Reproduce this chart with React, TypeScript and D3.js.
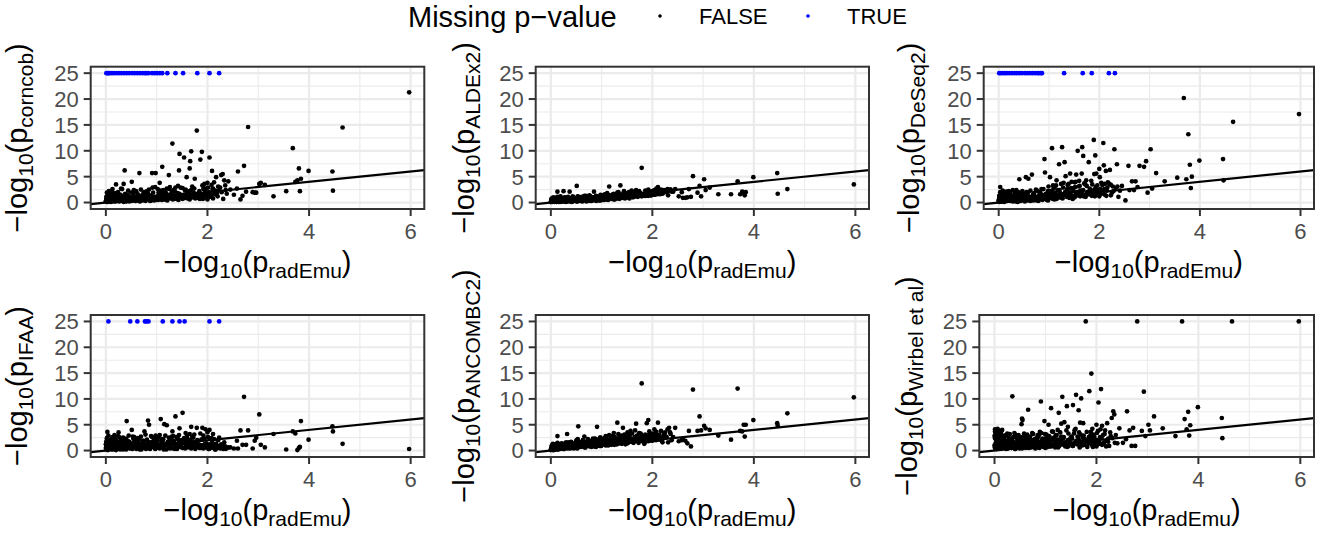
import React from "react";
import * as d3 from "d3";

// -log10(p) from radEmu, one entry per taxon (shared x of every panel)
const radEmu: number[] = [
  // high radEmu signal
  5.97, 4.66, 4.46, 4.47, 3.99, 3.84, 3.82, 3.80, 3.77, 3.73,
  3.68, 3.55, 3.30, 3.13, 3.05, 3.02, 2.96, 2.93, 2.89, 2.80,
  2.76, 2.72, 2.69, 2.65, 2.60, 2.58, 2.52, 2.45, 2.41,
  // moderate
  0.03, 0.13, 0.20, 0.25, 0.32, 0.35, 0.37, 0.41, 0.51, 0.54,
  0.55, 0.53, 0.59, 0.66, 0.76, 0.83, 0.85, 0.91, 0.92, 0.98,
  1.02, 1.06, 1.08, 1.11, 1.15, 1.20, 1.24, 1.26, 1.31, 1.33,
  1.37, 1.42, 1.45, 1.44, 1.51, 1.54, 1.57, 1.59, 1.60, 1.65,
  1.66, 1.68, 1.70, 1.74, 1.75, 1.79, 1.86, 1.89, 1.90, 1.92,
  1.94, 1.96, 2.00, 2.01, 2.04, 2.08, 2.09, 2.11, 2.13, 2.17,
  2.21, 2.23, 2.27, 2.30, 2.33, 2.35,
  // taxa with some missing p-values
  0.01, 0.04, 0.05, 0.08, 0.12, 0.16, 0.21, 0.26, 0.31, 0.36,
  0.41, 0.46, 0.48, 0.52, 0.57, 0.62, 0.67, 0.72, 0.77, 0.80,
  0.84, 0.86, 0.91, 0.96, 1.01, 1.06, 1.11, 1.12, 1.21, 1.30,
  1.31, 1.37, 1.45, 1.52, 1.55, 1.67, 1.80, 1.85, 2.04, 2.19,
  2.23, 2.31,
  // bulk
  0.00, 0.01, 0.02, 0.02, 0.03, 0.04, 0.05, 0.06, 0.07, 0.08,
  0.09, 0.10, 0.11, 0.13, 0.14, 0.15, 0.17, 0.18, 0.19, 0.22,
  0.23, 0.24, 0.27, 0.28, 0.29, 0.30, 0.33, 0.34, 0.38, 0.39,
  0.40, 0.43, 0.44, 0.45, 0.47, 0.49, 0.50, 0.56, 0.58, 0.60,
  0.61, 0.63, 0.64, 0.68, 0.69, 0.70, 0.73, 0.74, 0.78, 0.79,
  0.81, 0.87, 0.88, 0.89, 0.93, 0.94, 0.97, 0.99, 1.03, 1.04,
  1.07, 1.09, 1.13, 1.14, 1.17, 1.18, 1.22, 1.25, 1.28, 1.29,
  1.34, 1.36, 1.39, 1.41, 1.47, 1.49, 1.53, 1.56, 1.61, 1.63,
  1.69, 1.72, 1.77, 1.81, 1.84, 1.88, 1.93, 1.98, 2.03, 2.06,
  2.10, 2.14, 2.16, 2.20, 2.25, 2.28, 2.36, 2.38, 0.01, 0.03,
  // bulk, low values
  0.00, 0.01, 0.01, 0.02, 0.03, 0.04, 0.04, 0.05, 0.06, 0.07,
  0.08, 0.09, 0.10, 0.11, 0.12, 0.14, 0.15, 0.16, 0.18, 0.20,
  0.21, 0.23, 0.25, 0.26, 0.28, 0.30, 0.31, 0.33, 0.35, 0.36,
  0.38, 0.40, 0.42, 0.44, 0.46, 0.48, 0.50, 0.52, 0.54, 0.57,
  0.59, 0.61, 0.63, 0.65, 0.67, 0.70, 0.72, 0.75, 0.77, 0.80,
  0.82, 0.85, 0.87, 0.90, 0.93, 0.95, 0.98, 1.00, 1.03, 1.05,
  1.08, 1.10, 1.13, 1.16, 1.19, 1.21, 1.24, 1.27, 1.30, 1.32,
  1.35, 1.38, 1.40, 1.43, 1.46, 1.48, 1.51, 1.54, 1.57, 1.60,
  1.62, 1.65, 1.68, 1.71, 1.73, 1.76, 1.79, 1.82, 1.85, 1.87,
  1.90, 1.92, 1.95, 1.97, 2.00, 2.02, 2.05, 2.07, 2.11, 2.15,
  0.02, 0.06, 0.11, 0.17, 0.22, 0.27, 0.34, 0.43, 0.51, 0.62,
  0.71, 0.79, 0.88, 0.96, 1.05, 1.15, 1.26, 1.44, 1.66, 1.91,
];

// -log10(p) of each other method; null = missing p-value
const corncob: (number | null)[] = [
  21.3, 14.5, 6.0, 2.3, 6.1, 4.6, 2.2, 6.6, 4.3, 4.0,
  10.5, 2.2, 1.2, 3.4, 3.8, 3.6, 1.9, 1.9, 2.0, 14.6,
  2.1, 7.1, 1.3, 0.6, 6.0, 2.7, 1.5, 2.5, 4.1,
  1.2, 1.8, 3.5, 1.4, 2.6, 3.6, 6.2, 1.5, 4.0, 1.9,
  2.4, 1.1, 2.2, 5.7, 2.0, 1.7, 2.5, 5.7, 2.9, 5.7,
  2.6, 3.8, 2.3, 6.9, 2.1, 2.7, 5.3, 3.0, 11.4, 2.4,
  2.9, 3.2, 9.4, 6.2, 2.8, 8.7, 2.5, 4.9, 2.2, 6.6,
  8.0, 9.9, 3.1, 2.7, 4.6, 13.9, 8.3, 9.8, 3.3, 2.6,
  3.6, 2.4, 3.8, 2.9, 8.7, 3.4, 6.1, 2.7, 3.9, 4.9,
  3.1, 2.4, 5.3, 5.5, 4.3, 3.3,
  null, null, null, null, null, null, null, null, null, null,
  null, null, 0.8, null, null, null, null, null, null, null,
  null, 1.3, null, null, null, null, null, 1.5, null, 2.0,
  1.1, null, 1.7, null, 0.9, 2.3, null, 1.4, null, 1.9,
  null, 0.7,
  0.3, 1.1, 0.6, 1.9, 0.1, 1.4, 0.8, 2.2, 0.4, 1.0,
  1.6, 0.2, 0.9, 2.6, 0.5, 1.3, 0.7, 1.8, 0.2, 1.2,
  0.6, 2.0, 0.9, 0.3, 1.5, 2.7, 0.4, 1.1, 1.7, 0.8,
  0.2, 1.4, 2.3, 0.7, 1.0, 0.5, 1.9, 1.2, 0.3, 2.1,
  0.9, 1.6, 0.4, 1.3, 2.5, 0.6, 1.0, 1.8, 0.3, 1.5,
  2.2, 0.7, 1.2, 0.4, 1.9, 1.0, 3.0, 0.5, 1.4, 2.0,
  0.8, 1.7, 2.4, 1.1, 0.6, 1.9, 1.3, 2.6, 0.9, 1.6,
  1.2, 2.1, 0.7, 1.8, 2.9, 1.0, 1.5, 2.3, 0.8, 1.9,
  2.5, 1.3, 1.7, 0.9, 2.2, 1.5, 2.8, 1.1, 2.0, 1.6,
  2.6, 1.8, 2.3, 1.2, 2.9, 2.0, 2.4, 1.7, 0.5, 0.9,
  0.2, 0.7, 0.4, 1.0, 0.1, 0.5, 0.9, 0.3, 0.6, 1.2,
  0.4, 0.8, 0.1, 0.6, 1.1, 0.3, 0.7, 0.2, 0.9, 0.5,
  0.3, 1.0, 0.6, 0.2, 0.8, 0.4, 1.1, 0.5, 0.1, 0.7,
  0.9, 0.3, 0.6, 1.2, 0.2, 0.8, 0.4, 1.0, 0.5, 0.7,
  0.3, 0.9, 0.6, 1.1, 0.2, 0.7, 0.4, 1.3, 0.5, 0.8,
  0.6, 1.0, 0.3, 1.4, 0.7, 0.4, 1.1, 0.8, 0.5, 1.2,
  0.9, 0.5, 1.3, 0.7, 1.0, 0.4, 1.5, 0.8, 1.1, 0.6,
  1.2, 0.8, 1.6, 0.5, 1.0, 1.4, 0.7, 1.3, 0.9, 1.7,
  1.1, 0.6, 1.5, 1.0, 1.8, 0.8, 1.3, 1.6, 0.7, 1.2,
  1.5, 0.9, 1.9, 1.3, 0.6, 1.7, 1.1, 1.4, 0.8, 1.6,
  0.5, 0.2, 0.7, 0.4, 0.9, 0.3, 0.6, 0.8, 0.3, 1.0,
  0.5, 0.9, 0.4, 0.7, 1.0, 0.6, 1.2, 0.9, 1.1, 0.7,
];

const aldex2: (number | null)[] = [
  3.5, 2.6, 5.7, 1.7, 4.9, 2.0, 1.4, 1.9, 2.1, 1.6,
  4.1, 1.6, 1.6, 2.9, 2.4, 4.5, 1.2, 3.2, 1.9, 5.1,
  1.1, 2.6, 1.0, 0.9, 0.9, 2.0, 1.2, 2.6, 2.1,
  0.6, 2.1, 0.9, 2.2, 1.0, 0.7, 2.1, 0.8, 3.2, 1.1,
  0.9, 1.2, 0.6, 1.3, 1.4, 1.0, 2.1, 1.2, 0.9, 1.5,
  1.3, 1.6, 1.1, 1.8, 3.1, 1.4, 1.7, 1.2, 1.9, 2.0,
  3.3, 1.5, 1.8, 2.2, 1.6, 2.0, 1.3, 2.3, 1.7, 2.1,
  1.5, 2.4, 1.9, 2.2, 1.8, 6.7, 2.3, 2.0, 1.7, 2.5,
  2.1, 1.6, 2.2, 1.9, 2.4, 2.7, 2.0, 3.0, 2.3, 2.5,
  1.9, 2.4, 2.2, 2.6, 2.3, 2.5,
  0.4, 0.2, 0.7, 0.3, 0.5, 0.1, 0.6, 0.2, 0.8, 0.4,
  0.1, 0.9, 0.5, 0.3, 0.6, 0.2, 0.7, 0.4, 0.8, 0.3,
  0.6, 0.5, 0.9, 0.4, 0.7, 1.0, 0.6, 0.8, 1.1, 0.9,
  1.3, 1.0, 1.2, 1.4, 0.8, 1.6, 1.3, 1.7, 1.5, 1.8,
  2.0, 1.4,
  0.1, 0.5, 0.3, 0.8, 0.2, 0.6, 1.0, 0.4, 0.7, 0.2,
  0.9, 0.3, 0.6, 1.1, 0.4, 0.2, 0.8, 0.5, 1.2, 0.3,
  0.7, 0.4, 1.0, 0.2, 0.6, 0.9, 0.3, 1.1, 0.5, 0.8,
  0.4, 1.2, 0.6, 0.3, 0.9, 0.5, 0.7, 1.0, 0.4, 0.8,
  1.1, 0.5, 0.8, 0.6, 1.3, 0.4, 0.9, 0.7, 1.2, 0.5,
  0.8, 1.0, 0.6, 1.3, 0.9, 0.5, 1.1, 0.8, 1.4, 0.7,
  1.2, 0.9, 1.5, 0.8, 1.3, 1.0, 1.6, 0.9, 1.4, 1.1,
  1.3, 1.7, 1.0, 1.5, 1.2, 1.8, 1.1, 1.6, 1.4, 1.9,
  1.5, 1.2, 1.8, 1.6, 1.3, 2.0, 1.7, 1.4, 2.1, 1.8,
  1.6, 2.2, 1.9, 1.7, 2.3, 2.0, 2.5, 2.1, 0.6, 0.4,
  0.1, 0.3, 0.2, 0.5, 0.1, 0.4, 0.2, 0.6, 0.3, 0.1,
  0.4, 0.2, 0.5, 0.1, 0.3, 0.6, 0.2, 0.4, 0.1, 0.3,
  0.5, 0.2, 0.4, 0.7, 0.3, 0.1, 0.5, 0.3, 0.6, 0.2,
  0.4, 0.6, 0.2, 0.5, 0.3, 0.7, 0.4, 0.2, 0.6, 0.3,
  0.5, 0.3, 0.7, 0.4, 0.6, 0.2, 0.5, 0.8, 0.3, 0.6,
  0.4, 0.7, 0.5, 0.3, 0.8, 0.6, 0.4, 0.9, 0.5, 0.7,
  0.6, 0.9, 0.5, 0.8, 0.7, 1.0, 0.6, 0.9, 0.8, 1.1,
  0.7, 1.0, 0.9, 1.2, 0.8, 1.1, 1.0, 0.9, 1.3, 1.1,
  1.0, 1.2, 1.4, 1.1, 1.3, 1.5, 1.2, 1.4, 1.6, 1.3,
  1.5, 1.3, 1.7, 1.4, 1.6, 1.8, 1.5, 1.7, 1.9, 1.6,
  0.2, 0.4, 0.1, 0.3, 0.2, 0.5, 0.3, 0.4, 0.2, 0.5,
  0.3, 0.6, 0.4, 0.7, 0.5, 0.8, 0.6, 0.9, 1.2, 1.4,
];

const deseq2: (number | null)[] = [
  17.1, 15.6, 8.4, 4.3, 8.1, 5.0, 2.8, 7.3, 13.2, 4.5,
  20.2, 4.8, 4.1, 5.7, 2.7, 10.3, 1.9, 8.0, 6.9, 7.1,
  3.0, 4.1, 2.4, 4.1, 2.4, 7.1, 0.4, 3.2, 2.3,
  3.0, 1.5, 2.2, 1.0, 1.8, 2.4, 1.2, 4.5, 1.6, 4.9,
  2.0, 1.4, 4.6, 5.4, 2.3, 1.9, 2.6, 8.4, 5.8, 2.2,
  4.9, 10.5, 3.3, 2.9, 4.3, 7.4, 3.6, 10.7, 7.8, 5.1,
  3.4, 5.6, 4.0, 2.8, 3.9, 5.4, 10.0, 3.1, 4.2, 5.6,
  10.7, 9.0, 3.7, 4.3, 3.2, 7.8, 3.5, 12.1, 5.5, 9.1,
  5.6, 3.3, 6.5, 4.9, 3.8, 11.5, 7.2, 3.6, 6.1, 3.9,
  6.3, 3.4, 3.1, 10.3, 2.8, 7.4,
  null, null, 0.9, null, null, null, null, null, null, null,
  null, null, 1.2, null, null, null, null, null, null, null,
  null, null, 1.5, 0.8, 2.1, 1.3, 0.6, 1.9, 2.4, null,
  1.7, 2.6, 1.2, 3.0, 2.0, null, 1.6, null, 2.3, null,
  1.4, null,
  0.4, 1.3, 0.2, 0.9, 2.0, 0.6, 1.6, 0.3, 1.1, 2.3,
  0.7, 1.8, 0.5, 1.2, 0.3, 2.1, 0.9, 1.5, 0.4, 1.0,
  1.9, 0.6, 1.3, 2.4, 0.8, 0.3, 1.6, 1.0, 0.5, 2.0,
  1.2, 0.4, 1.7, 0.9, 2.2, 0.6, 1.4, 0.8, 1.9, 0.5,
  1.1, 2.3, 0.7, 1.5, 0.4, 1.8, 1.0, 2.5, 0.6, 1.3,
  2.0, 0.9, 1.4, 2.6, 0.7, 1.7, 1.2, 3.1, 1.5, 2.2,
  0.8, 2.7, 1.6, 3.3, 1.1, 2.4, 1.8, 0.9, 2.9, 3.8,
  1.4, 2.5, 3.6, 1.9, 0.7, 2.8, 4.0, 1.6, 3.2, 2.3,
  1.2, 3.5, 2.0, 2.7, 4.2, 1.5, 3.0, 2.4, 1.8, 3.4,
  2.6, 1.3, 2.9, 3.6, 1.9, 2.2, 3.1, 1.1, 0.6, 1.4,
  0.3, 0.8, 0.1, 0.5, 1.0, 0.2, 0.6, 1.2, 0.4, 0.7,
  0.2, 0.9, 0.5, 0.1, 1.1, 0.4, 0.7, 0.3, 1.0, 0.6,
  0.8, 0.3, 1.2, 0.5, 0.2, 0.9, 0.6, 1.3, 0.4, 0.7,
  0.1, 1.0, 0.6, 0.3, 0.8, 1.1, 0.5, 0.2, 0.9, 0.4,
  1.2, 0.6, 0.3, 0.9, 0.5, 1.4, 0.7, 0.4, 1.0, 0.6,
  0.8, 1.3, 0.5, 1.0, 0.7, 1.5, 0.4, 1.1, 0.9, 1.6,
  0.7, 1.2, 1.8, 0.9, 1.4, 1.0, 1.7, 0.8, 1.5, 2.0,
  1.1, 1.6, 0.9, 1.9, 1.3, 2.2, 1.0, 1.7, 1.4, 2.1,
  1.2, 1.8, 2.4, 1.5, 1.1, 2.0, 1.6, 2.3, 1.3, 1.9,
  2.5, 1.4, 1.8, 2.2, 1.2, 2.6, 1.7, 2.0, 1.5, 2.3,
  0.4, 0.2, 0.6, 0.3, 0.8, 0.5, 0.2, 0.7, 0.4, 0.9,
  0.6, 0.3, 0.8, 0.5, 1.1, 0.7, 1.3, 1.0, 1.5, 1.2,
];

const ifaa: (number | null)[] = [
  0.3, 1.3, 4.7, 3.7, 2.1, 5.7, 0.7, 0.5, 0.1, 3.3,
  3.7, 0.2, 3.2, 0.6, 1.1, 7.0, 2.5, 1.9, 0.4, 3.9,
  1.1, 10.4, 1.1, 3.9, 0.4, 1.9, 0.4, 0.6, 0.6,
  3.6, 2.2, 1.6, 3.5, 2.4, 1.2, 2.0, 5.7, 4.0, 2.3,
  1.4, 2.7, 1.8, 2.1, 3.7, 5.8, 5.0, 2.6, 1.7, 2.9,
  2.0, 3.0, 6.1, 2.2, 5.1, 4.9, 2.5, 1.9, 3.7, 2.8,
  6.6, 2.2, 4.3, 3.0, 7.3, 2.4, 3.4, 1.8, 2.9, 3.2,
  2.0, 4.6, 2.6, 3.1, 1.6, 4.4, 3.3, 2.1, 4.4, 2.9,
  2.3, 4.1, 3.5, 2.6, 4.0, 2.4, 1.5, 3.2, 2.2, 1.3,
  2.0, 2.5, 1.2, 0.9, 1.6, 0.8,
  1.1, 0.7, null, 1.5, 0.4, 1.9, 0.8, 2.6, 0.3, 1.3,
  0.6, 1.7, null, 0.9, 2.0, null, 1.1, 0.5, null, null,
  null, 1.6, 0.7, 2.2, 1.0, 0.4, 1.8, null, 1.3, 2.7,
  null, 0.8, null, 1.5, null, 1.1, 2.0, 0.9, null, 0.5,
  null, 0.3,
  1.2, 0.3, 2.4, 0.8, 1.7, 0.1, 2.9, 0.6, 1.4, 2.1,
  0.4, 1.9, 0.9, 2.6, 0.2, 1.5, 3.0, 0.7, 2.2, 1.0,
  0.5, 2.8, 1.3, 0.2, 2.0, 0.9, 1.6, 2.5, 0.3, 1.1,
  2.3, 0.6, 1.8, 2.9, 0.4, 1.4, 0.8, 2.6, 1.2, 0.3,
  1.7, 2.4, 0.5, 1.0, 2.7, 0.2, 1.9, 1.3, 3.1, 0.7,
  2.1, 0.4, 1.5, 2.8, 0.9, 1.8, 0.3, 2.3, 1.1, 2.6,
  0.6, 1.4, 2.2, 0.2, 2.9, 1.0, 1.7, 0.5, 2.4, 1.2,
  1.9, 0.3, 2.6, 1.1, 0.7, 2.0, 1.5, 0.4, 2.2, 1.3,
  0.8, 2.5, 1.0, 1.8, 0.5, 2.1, 0.9, 1.4, 0.3, 1.1,
  0.6, 1.2, 0.2, 0.9, 0.4, 0.7, 0.3, 0.5, 1.8, 0.9,
  0.5, 1.4, 0.2, 0.9, 1.8, 0.4, 1.1, 0.7, 1.6, 0.3,
  1.0, 0.6, 1.5, 0.2, 1.2, 0.8, 1.9, 0.5, 1.3, 0.1,
  0.9, 1.7, 0.4, 1.1, 0.6, 1.5, 0.3, 1.0, 1.8, 0.7,
  1.3, 0.2, 0.8, 1.6, 0.5, 1.2, 0.9, 0.3, 1.4, 0.6,
  1.1, 0.4, 1.7, 0.8, 0.2, 1.3, 0.6, 1.9, 1.0, 0.5,
  1.5, 0.7, 0.3, 1.2, 0.9, 1.8, 0.4, 1.4, 0.6, 1.1,
  0.8, 1.6, 0.5, 1.3, 0.2, 1.0, 1.7, 0.6, 1.2, 0.4,
  1.4, 0.9, 0.3, 1.5, 0.7, 1.1, 0.5, 1.8, 0.8, 1.3,
  0.6, 1.2, 0.4, 1.6, 0.9, 0.3, 1.4, 0.7, 1.1, 0.5,
  1.0, 0.4, 1.3, 0.6, 0.9, 0.3, 1.2, 0.5, 0.8, 0.2,
  0.7, 1.3, 0.4, 1.0, 0.6, 1.5, 0.2, 0.9, 1.2, 0.5,
  1.1, 0.3, 0.8, 1.4, 0.6, 1.0, 0.4, 1.3, 0.7, 0.9,
];

const ancombc2: (number | null)[] = [
  10.3, 7.2, 5.3, 4.8, 5.9, 5.0, 2.7, 5.0, 3.7, 3.8,
  12.0, 2.1, 2.9, 4.0, 4.3, 4.8, 3.9, 6.6, 3.8, 11.8,
  0.8, 3.8, 1.4, 1.9, 2.2, 2.0, 1.8, 4.4, 2.6,
  0.9, 2.8, 1.3, 0.8, 3.2, 1.6, 1.1, 1.5, 2.0, 4.7,
  1.7, 2.2, 1.3, 2.7, 1.9, 2.3, 1.6, 4.6, 2.1, 2.5,
  1.9, 2.4, 2.8, 1.7, 3.0, 2.2, 3.4, 2.6, 5.4, 3.2,
  2.7, 4.4, 3.1, 2.3, 3.5, 2.9, 3.8, 2.2, 3.3, 2.6,
  3.9, 5.2, 2.9, 3.4, 2.5, 13.0, 3.1, 5.3, 2.4, 5.9,
  3.7, 2.8, 3.3, 2.2, 4.1, 3.6, 2.9, 5.4, 3.0, 3.8,
  2.6, 3.2, 2.7, 4.1, 4.4, 3.5,
  0.3, 0.5, 0.8, 0.2, 0.6, 0.4, 0.9, 0.3, 1.0, 0.5,
  0.7, 1.2, 0.6, 0.4, 1.1, 0.8, 1.4, 0.9, 1.6, 0.7,
  1.3, 1.0, 1.8, 0.9, 1.5, 1.2, 2.0, 1.4, 1.7, 2.1,
  1.3, 1.9, 2.4, 1.6, 2.6, 2.0, 2.8, 1.5, 2.3, 1.9,
  2.5, 1.6,
  0.2, 0.6, 1.0, 0.3, 0.8, 1.3, 0.4, 0.1, 0.9, 0.5,
  1.2, 0.3, 0.7, 1.5, 0.2, 0.9, 0.6, 1.1, 0.4, 1.4,
  0.7, 0.3, 1.2, 0.9, 0.5, 1.6, 0.8, 1.3, 0.4, 1.0,
  1.7, 0.6, 1.1, 0.4, 1.4, 0.9, 1.9, 0.7, 1.2, 1.6,
  0.8, 2.0, 1.3, 0.6, 1.7, 1.1, 2.2, 0.9, 1.5, 1.8,
  1.0, 2.3, 1.4, 0.7, 1.9, 1.2, 2.5, 0.9, 1.6, 2.1,
  1.3, 2.6, 1.0, 1.8, 2.3, 1.5, 2.8, 1.1, 2.0, 1.7,
  2.4, 1.4, 2.9, 1.9, 1.2, 2.6, 1.6, 3.1, 2.1, 1.5,
  2.8, 1.8, 3.3, 2.2, 1.3, 2.7, 3.0, 1.9, 2.5, 3.4,
  2.1, 3.0, 2.4, 1.6, 3.5, 2.6, 3.2, 2.0, 0.4, 0.7,
  0.1, 0.3, 0.2, 0.5, 0.2, 0.4, 0.1, 0.6, 0.3, 0.5,
  0.2, 0.7, 0.4, 0.3, 0.6, 0.2, 0.8, 0.5, 0.3, 0.7,
  0.4, 0.9, 0.6, 0.3, 0.8, 0.5, 1.0, 0.4, 0.7, 0.9,
  0.5, 1.0, 0.7, 1.2, 0.6, 0.9, 1.1, 0.5, 0.8, 1.3,
  0.7, 1.1, 0.9, 1.4, 0.6, 1.2, 1.0, 1.5, 0.8, 1.3,
  1.1, 0.8, 1.5, 1.0, 1.3, 1.7, 0.9, 1.4, 1.2, 1.6,
  1.0, 1.5, 1.3, 1.8, 1.1, 1.6, 1.4, 1.9, 1.2, 1.7,
  1.5, 2.0, 1.3, 1.8, 1.6, 2.1, 1.4, 1.9, 1.7, 2.2,
  1.6, 2.1, 1.8, 2.4, 1.5, 2.0, 2.3, 1.7, 2.2, 1.9,
  2.4, 1.8, 2.2, 2.6, 1.9, 2.3, 2.7, 2.0, 2.5, 2.1,
  0.2, 0.4, 0.3, 0.6, 0.4, 0.7, 0.5, 0.8, 0.9, 1.0,
  1.2, 1.0, 1.4, 1.1, 1.5, 1.3, 1.7, 1.8, 2.0, 2.3,
];

const wirbel: (number | null)[] = [
  25, 25, 6.3, 2.4, 8.4, 4.9, 2.9, 7.5, 4.1, 6.1,
  25, 2.8, 4.3, 6.6, 3.9, 5.0, 2.8, 11.4, 3.8, 25,
  0.9, 4.4, 0.9, 3.9, 7.6, 2.2, 1.5, 4.3, 1.4,
  4.0, 3.6, 2.9, 3.3, 2.2, 10.5, 2.6, 3.1, 2.4, 6.2,
  5.9, 5.1, 2.8, 7.9, 3.2, 2.5, 3.0, 9.5, 3.4, 5.7,
  3.1, 5.0, 2.6, 8.2, 3.6, 2.9, 4.0, 7.3, 5.2, 10.4,
  5.5, 8.6, 3.3, 4.6, 2.7, 8.8, 3.9, 4.2, 10.8, 7.8,
  3.5, 5.4, 10.1, 5.3, 2.9, 25, 11.5, 3.6, 14.9, 4.2,
  3.1, 2.6, 5.0, 3.4, 9.3, 4.1, 11.9, 4.8, 3.0, 3.9,
  5.3, 2.3, 3.5, 6.3, 7.6, 7.0,
  0.6, 1.8, 2.3, 1.1, 3.0, 0.7, 1.5, 0.4, 2.1, 1.2,
  0.3, 1.7, 1.0, 2.6, 0.8, 1.4, 0.5, 2.0, 1.1, 0.6,
  1.9, 0.9, 1.6, 0.7, 2.4, 1.3, 0.8, 2.2, 1.0, 1.8,
  2.7, 1.5, 0.9, 2.3, 1.2, 0.6, 1.9, 2.6, 1.3, 0.8,
  1.7, 2.4,
  2.8, 4.1, 1.2, 3.5, 0.4, 3.9, 2.2, 4.2, 1.7, 3.3,
  2.6, 3.8, 0.8, 3.1, 1.9, 4.0, 0.6, 2.4, 1.3, 2.9,
  0.3, 1.8, 2.7, 0.9, 1.4, 3.2, 0.5, 2.3, 1.1, 3.4,
  1.6, 0.7, 2.6, 1.2, 3.0, 0.4, 2.0, 1.5, 3.3, 0.8,
  2.4, 1.0, 3.1, 0.6, 1.8, 2.7, 0.9, 3.4, 1.3, 2.2,
  0.5, 2.9, 1.6, 3.6, 0.8, 2.3, 1.1, 3.2, 1.9, 0.7,
  2.8, 1.4, 3.7, 0.9, 2.5, 1.7, 3.0, 0.6, 2.1, 3.5,
  1.2, 2.6, 0.8, 3.9, 1.8, 2.4, 0.9, 3.3, 1.5, 2.7,
  3.1, 1.0, 2.2, 3.6, 1.4, 2.9, 0.7, 2.0, 3.8, 1.6,
  2.5, 1.3, 3.2, 1.9, 0.9, 2.8, 1.5, 3.0, 3.7, 2.1,
  1.0, 2.4, 0.5, 3.7, 1.6, 0.3, 2.9, 1.2, 3.4, 0.8,
  2.0, 0.4, 3.6, 1.4, 2.6, 0.9, 1.8, 0.6, 2.3, 1.1,
  0.7, 1.9, 0.4, 1.5, 2.2, 0.8, 1.3, 0.5, 2.0, 1.0,
  1.6, 0.3, 1.2, 2.4, 0.6, 1.8, 0.9, 1.4, 0.4, 2.1,
  1.1, 0.5, 1.7, 0.8, 2.3, 1.3, 0.6, 1.9, 1.0, 0.4,
  1.5, 2.5, 0.7, 1.2, 2.0, 0.9, 1.6, 0.5, 2.2, 1.3,
  0.8, 1.8, 1.1, 2.4, 0.6, 1.4, 2.1, 0.9, 1.7, 1.2,
  2.3, 1.0, 1.6, 0.7, 2.0, 1.3, 2.6, 0.9, 1.5, 1.9,
  1.2, 2.2, 0.8, 1.7, 2.5, 1.1, 1.9, 0.7, 2.1, 1.4,
  1.8, 1.0, 2.3, 1.5, 0.8, 2.0, 1.3, 2.6, 1.1, 1.6,
  3.1, 2.7, 1.3, 0.9, 1.7, 0.6, 1.2, 0.8, 1.5, 1.0,
  0.7, 1.4, 0.5, 1.1, 1.8, 0.9, 1.3, 2.0, 1.6, 2.4,
];

const methodNames = ["corncob", "ALDEx2", "DeSeq2", "IFAA", "ANCOMBC2", "Wirbel et al"];
const methodValues = [corncob, aldex2, deseq2, ifaa, ancombc2, wirbel];
const xTicks = [0, 2, 4, 6];
const xMinor = [1, 3, 5];
const yTicks = [0, 5, 10, 15, 20, 25];
const yMinor = [2.5, 7.5, 12.5, 17.5, 22.5];
const missingValue = 25;
const legendTitle = "Missing p\u2212value";
const legendLabels = ["FALSE", "TRUE"];
const legendColors = ["#000000", "#0000FF"];

// layout (pixels)
const boxes = [
  { l: 90.7, r: 424.3, t: 66.7, b: 209, tx: 27 },
  { l: 535.7, r: 869, t: 66.7, b: 209, tx: 474 },
  { l: 983.7, r: 1314, t: 66.7, b: 209, tx: 919 },
  { l: 90.7, r: 424.3, t: 315, b: 457, tx: 27 },
  { l: 535.7, r: 869, t: 315, b: 457, tx: 474 },
  { l: 979.3, r: 1314, t: 315, b: 457, tx: 917 },
];

const FONT = "'Liberation Sans', Arial, Helvetica, sans-serif";
const TITLE_SIZE = 29;
const LEGEND_TITLE_SIZE = 29;
const SUB_SIZE = 21;
const SUB_SHIFT = 6;
const TICK_SIZE = 22;
const GRID = "#EBEBEB";
const DARK = "#333333";
const TICK_TEXT = "#4D4D4D";
const R = 2.35;
const LEGEND_R = 1.8;

function expand(ext: [number, number]): [number, number] {
  const d = (ext[1] - ext[0]) * 0.05;
  return [ext[0] - d, ext[1] + d];
}

function MathTitle(props: { x: number; y: number; sub: string; rotate?: boolean }) {
  const { x, y, sub, rotate } = props;
  return (
    <text
      transform={`translate(${x},${y})${rotate ? " rotate(-90)" : ""}`}
      textAnchor="middle"
      fontFamily={FONT}
      fontSize={TITLE_SIZE}
      fill="#000"
    >
      {"\u2212log"}
      <tspan fontSize={SUB_SIZE} dy={SUB_SHIFT}>10</tspan>
      <tspan dy={-SUB_SHIFT}>(p</tspan>
      <tspan fontSize={SUB_SIZE} dy={SUB_SHIFT}>{sub}</tspan>
      <tspan dy={-SUB_SHIFT}>)</tspan>
    </text>
  );
}

function Panel(props: { idx: number }) {
  const { idx } = props;
  const box = boxes[idx];
  const values = methodValues[idx];
  const n = Math.min(radEmu.length, values.length);
  const xExt = d3.extent(radEmu) as [number, number];
  const x = d3.scaleLinear().domain(expand([Math.min(0, xExt[0]), xExt[1]])).range([box.l, box.r]);
  const y = d3.scaleLinear().domain(expand([0, missingValue])).range([box.b, box.t]);
  const [d0, d1] = x.domain();
  const line = d3.line<number>().x((v) => x(v)).y((v) => y(v));
  const clipId = `clip-${idx}`;
  const pts = d3.range(n).map((i) => {
    const v = values[i];
    const miss = v === null || v === undefined;
    return { x: radEmu[i], y: miss ? missingValue : (v as number), miss };
  });
  const cy = (box.t + box.b) / 2;
  const cx = (box.l + box.r) / 2;
  return (
    <g>
      <defs>
        <clipPath id={clipId}>
          <rect x={box.l} y={box.t} width={box.r - box.l} height={box.b - box.t} />
        </clipPath>
      </defs>
      <rect x={box.l} y={box.t} width={box.r - box.l} height={box.b - box.t} fill="#fff" />
      <g clipPath={`url(#${clipId})`}>
        {xMinor.map((t) => (
          <line key={`xm${t}`} x1={x(t)} x2={x(t)} y1={box.t} y2={box.b} stroke={GRID} strokeWidth={1.1} />
        ))}
        {yMinor.map((t) => (
          <line key={`ym${t}`} x1={box.l} x2={box.r} y1={y(t)} y2={y(t)} stroke={GRID} strokeWidth={1.1} />
        ))}
        {xTicks.map((t) => (
          <line key={`xM${t}`} x1={x(t)} x2={x(t)} y1={box.t} y2={box.b} stroke={GRID} strokeWidth={2.2} />
        ))}
        {yTicks.map((t) => (
          <line key={`yM${t}`} x1={box.l} x2={box.r} y1={y(t)} y2={y(t)} stroke={GRID} strokeWidth={2.2} />
        ))}
        {pts.map((p, i) => (
          <circle key={i} cx={x(p.x)} cy={y(p.y)} r={R} fill={p.miss ? legendColors[1] : legendColors[0]} />
        ))}
        <path d={line([d0, d1]) || ""} stroke="#000" strokeWidth={2.2} fill="none" />
      </g>
      <rect x={box.l} y={box.t} width={box.r - box.l} height={box.b - box.t} fill="none" stroke={DARK} strokeWidth={2} />
      {xTicks.map((t) => (
        <g key={`xt${t}`}>
          <line x1={x(t)} x2={x(t)} y1={box.b} y2={box.b + 7} stroke={DARK} strokeWidth={2} />
          <text x={x(t)} y={box.b + 30} textAnchor="middle" fontFamily={FONT} fontSize={TICK_SIZE} fill={TICK_TEXT}>
            {t}
          </text>
        </g>
      ))}
      {yTicks.map((t) => (
        <g key={`yt${t}`}>
          <line x1={box.l - 7} x2={box.l} y1={y(t)} y2={y(t)} stroke={DARK} strokeWidth={2} />
          <text x={box.l - 12} y={y(t)} dy="0.36em" textAnchor="end" fontFamily={FONT} fontSize={TICK_SIZE} fill={TICK_TEXT}>
            {t}
          </text>
        </g>
      ))}
      <MathTitle x={cx} y={box.b + 63} sub="radEmu" />
      <MathTitle x={box.tx} y={cy} sub={methodNames[idx]} rotate />
    </g>
  );
}

export default function App() {
  return (
    <svg
      width={1325}
      height={536}
      style={{ position: "absolute", left: 0, top: 0, background: "#fff" }}
    >
      <rect x={0} y={0} width={1325} height={536} fill="#fff" />
      <text x={408} y={27} fontFamily={FONT} fontSize={LEGEND_TITLE_SIZE} fill="#000">
        {legendTitle}
      </text>
      {legendLabels.map((lab, i) => {
        const keyX = [660, 808][i];
        const labX = [699, 847][i];
        return (
          <g key={lab}>
            <circle cx={keyX} cy={16} r={LEGEND_R} fill={legendColors[i]} />
            <text x={labX} y={24} fontFamily={FONT} fontSize={TICK_SIZE} fill="#000">
              {lab}
            </text>
          </g>
        );
      })}
      {boxes.map((_, i) => (
        <Panel key={i} idx={i} />
      ))}
    </svg>
  );
}
